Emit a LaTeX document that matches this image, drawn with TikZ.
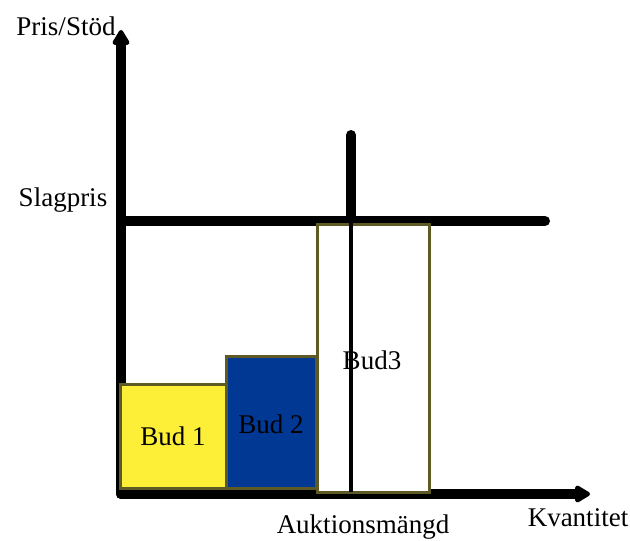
\documentclass[tikz,border=0pt]{standalone}
\usepackage{fontspec}
\setmainfont{Liberation Serif}
\usetikzlibrary{arrows.meta}
\definecolor{budyellow}{HTML}{FDEE37}
\definecolor{budblue}{HTML}{003893}
\definecolor{olive}{HTML}{5E5A26}
\begin{document}
\begin{tikzpicture}[x=1pt,y=-1pt,
  every node/.style={font=\fontsize{27}{32}\selectfont, inner sep=0pt},
  axis/.style={line width=10pt, line cap=round, -{Triangle[width=19pt,length=17pt,round]}},
  thickline/.style={line width=10pt, line cap=round},
  bar/.style={draw=olive, line width=3pt, minimum width=#1, anchor=center},
]
\useasboundingbox (0,0) rectangle (630,541);
\coordinate (o) at (121,494);
\coordinate (ytip) at (121,30);
\coordinate (xtip) at (590,494);
\coordinate (hl) at (123,221);
\coordinate (hr) at (545,221);
\coordinate (vt) at (351,135);
\coordinate (vm) at (351,221);
\coordinate (vb) at (351,492);
\draw[axis] (o) -- (ytip);
\draw[axis] (o) -- (xtip);
\draw[thickline] (hl) -- (hr);
\draw[thickline] (vt) -- (vm);
\node[bar=106pt, minimum height=104pt, fill=budyellow] (b1) at (173,436) {Bud 1};
\node[bar=90pt, minimum height=132pt, fill=budblue] (b2) at (271,422) {};
\node at (271,424) (b2t) {Bud 2};
\node[bar=112pt, minimum height=268pt, fill=white] (b3) at (373,358) {};
\draw[line width=4pt] (vm) -- (vb);
\node (b3t) at (372,360) {Bud3};
\node (py) at (66,26) {Pris/Stöd};
\node (sp) at (63,200) {Slagpris};
\node (am) at (363,527) {Auktionsmängd};
\node (kv) at (578,518) {Kvantitet};
\end{tikzpicture}
\end{document}
